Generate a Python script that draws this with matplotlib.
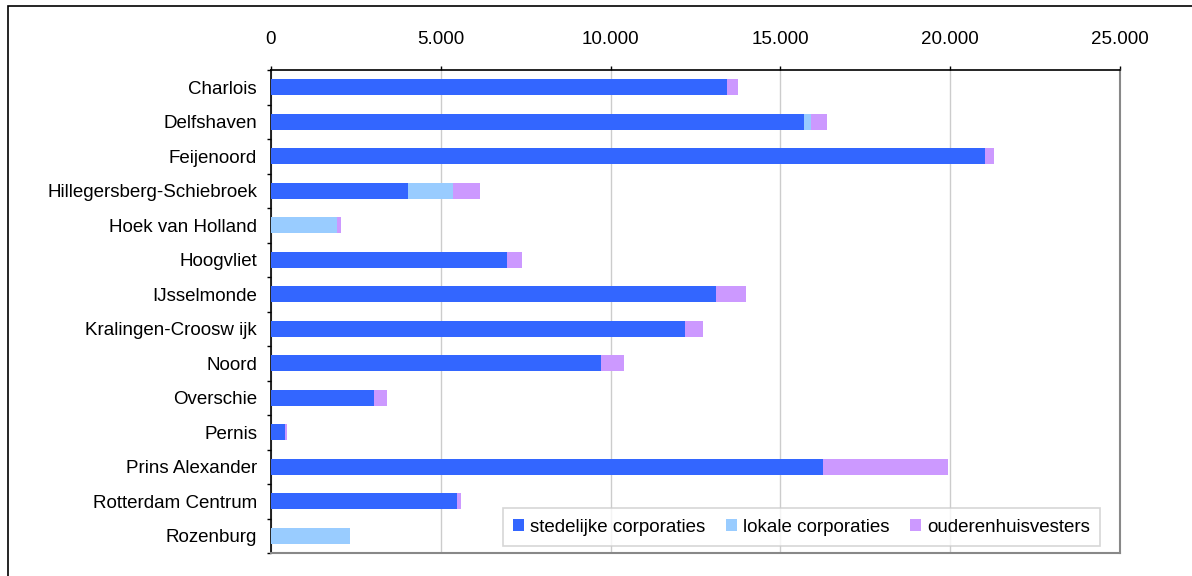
import numpy as np
import matplotlib.pyplot as plt
from matplotlib.patches import Rectangle
from matplotlib.ticker import FuncFormatter, FixedLocator

plt.rcParams['font.family'] = ['Liberation Sans', 'DejaVu Sans']

# ── Data ───────────────────────────────────────────────────────────────────────
wijken = ['Charlois', 'Delfshaven', 'Feijenoord', 'Hillegersberg-Schiebroek',
          'Hoek van Holland', 'Hoogvliet', 'IJsselmonde', 'Kralingen-Crooswijk',
          'Noord', 'Overschie', 'Pernis', 'Prins Alexander',
          'Rotterdam Centrum', 'Rozenburg']
tick_labels = ['Charlois', 'Delfshaven', 'Feijenoord', 'Hillegersberg-Schiebroek',
               'Hoek van Holland', 'Hoogvliet', 'IJsselmonde', 'Kralingen-Croosw ijk',
               'Noord', 'Overschie', 'Pernis', 'Prins Alexander',
               'Rotterdam Centrum', 'Rozenburg']
stedelijk = [13420, 15700, 21020, 4020, 0, 6950, 13090, 12190, 9720, 3030, 410, 16250, 5480, 0]
lokaal    = [0, 210, 0, 1340, 1940, 0, 0, 0, 0, 0, 0, 0, 0, 2330]
ouderen   = [320, 470, 270, 790, 120, 440, 900, 530, 670, 390, 60, 3690, 110, 0]
series_names = ['stedelijke corporaties', 'lokale corporaties', 'ouderenhuisvesters']
colors = ['#3366FF', '#99CCFF', '#CC99FF']

FS = 13.5

# ── Figure ─────────────────────────────────────────────────────────────────────
W, H = 1192, 576
fig = plt.figure(figsize=(W / 100, H / 100), dpi=100)
ax = fig.add_axes([271 / W, 1 - 553 / H, (1120 - 271) / W, (553 - 70) / H])

# outer chart frame
fig.patches.append(Rectangle((8 / W, -0.1), 1.2, 1 - 6 / H + 0.1, transform=fig.transFigure,
                             fill=False, edgecolor='black', linewidth=1.2))

y = np.arange(len(wijken))
left = np.zeros(len(wijken))
for vals, name, c in zip([stedelijk, lokaal, ouderen], series_names, colors):
    ax.barh(y, vals, left=left, height=0.46, color=c, label=name, zorder=3)
    left = left + np.array(vals)

ax.set_xlim(0, 25000)
ax.set_ylim(len(wijken) - 0.5, -0.5)
ax.xaxis.tick_top()
ax.set_xticks(np.arange(0, 25001, 5000))
ax.xaxis.set_major_formatter(FuncFormatter(lambda v, p: f'{int(v):,}'.replace(',', '.')))
ax.tick_params(axis='x', length=3, width=1, pad=13, labelsize=FS, color='black')
ax.grid(axis='x', color='#cccccc', linewidth=1, zorder=0)

ax.set_yticks(y)
ax.set_yticklabels(tick_labels, fontsize=FS)
ax.tick_params(axis='y', which='major', length=0, pad=10)
ax.yaxis.set_minor_locator(FixedLocator(np.arange(-0.5, len(wijken), 1)))
ax.tick_params(axis='y', which='minor', length=3, width=1, color='black')

ax.spines['top'].set_color('black')
ax.spines['left'].set_color('black')
ax.spines['top'].set_linewidth(1.2)
ax.spines['left'].set_linewidth(1.2)
for s in ['right', 'bottom']:
    ax.spines[s].set_color('#888888')
    ax.spines[s].set_linewidth(1.5)

leg = ax.legend(loc='lower right', bbox_to_anchor=((1100 - 271) / (1120 - 271), (553 - 546) / (553 - 70)),
                ncol=3, fontsize=FS, frameon=True, fancybox=False, handlelength=0.6,
                handleheight=0.6, handletextpad=0.3, columnspacing=1.1, borderpad=0.55,
                borderaxespad=0)
leg.get_frame().set_edgecolor('#cccccc')
leg.get_frame().set_linewidth(1.2)
leg.set_zorder(5)

plt.savefig('out.png', dpi=100)
